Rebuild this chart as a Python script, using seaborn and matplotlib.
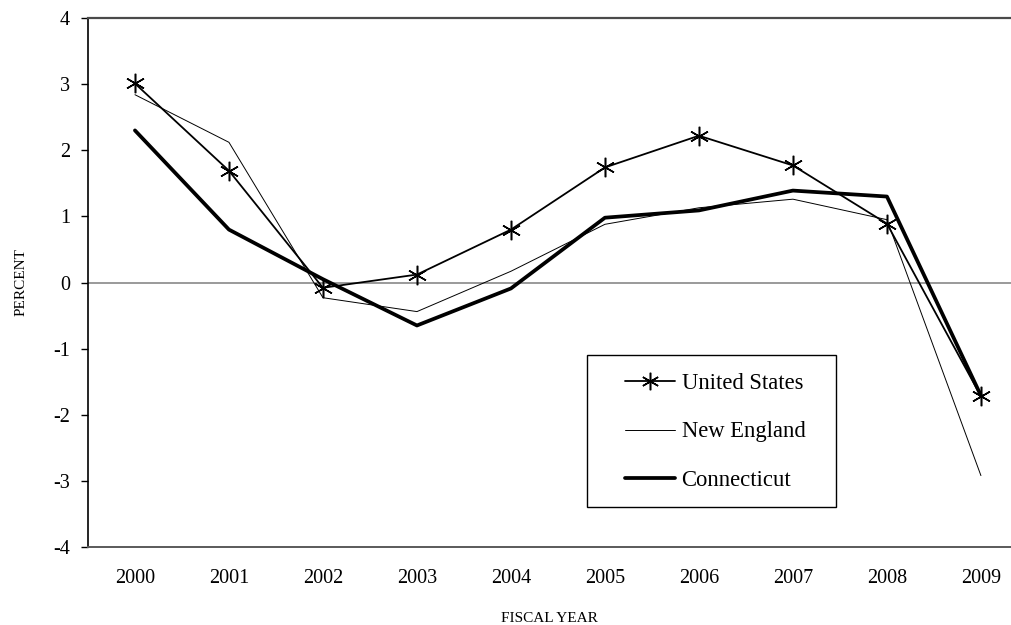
import matplotlib
matplotlib.use("Agg")
import matplotlib.pyplot as plt
from matplotlib.patches import Rectangle
import seaborn as sns
import pandas as pd

years = [2000, 2001, 2002, 2003, 2004, 2005, 2006, 2007, 2008, 2009]
united_states = [3.01, 1.69, -0.08, 0.12, 0.80, 1.74, 2.22, 1.77, 0.89, -1.72]
new_england = [2.84, 2.12, -0.23, -0.44, 0.17, 0.88, 1.13, 1.26, 0.95, -2.92]
connecticut = [2.30, 0.80, 0.05, -0.65, -0.09, 0.98, 1.09, 1.39, 1.30, -1.71]
yticks = [-4, -3, -2, -1, 0, 1, 2, 3, 4]

sns.set_theme(style="white")
plt.rcParams["font.family"] = ["Liberation Serif", "DejaVu Serif"]
plt.rcParams["axes.unicode_minus"] = False

fig = plt.figure(figsize=(10.11, 6.25), dpi=100)
ax = fig.add_axes([0.087, 0.1248, 0.913, 0.8464])

ax.axhline(0, color="#7f7f7f", lw=1.1, zorder=1)

df_us = pd.DataFrame({"year": years, "value": united_states})
df_ne = pd.DataFrame({"year": years, "value": new_england})
df_ct = pd.DataFrame({"year": years, "value": connecticut})

sns.lineplot(data=df_us, x="year", y="value", ax=ax, color="black", lw=1.3,
             marker=(6, 2, 0), markersize=14, markeredgewidth=1.1,
             markeredgecolor="black", label="United States", zorder=3)
sns.lineplot(data=df_ne, x="year", y="value", ax=ax, color="black", lw=0.7,
             label="New England", zorder=2)
sns.lineplot(data=df_ct, x="year", y="value", ax=ax, color="black", lw=2.7,
             label="Connecticut", zorder=4)

ax.set_xlim(1999.5, 2009.32)
ax.set_ylim(-4, 4)
ax.set_yticks(yticks)
ax.set_yticklabels([str(v) for v in yticks])
ax.set_xticks(years)
ax.set_xticklabels([str(y) for y in years])
ax.tick_params(axis="y", which="both", left=True, length=5, width=1, color="black",
               labelsize=14.5, labelcolor="black", pad=8)
ax.tick_params(axis="x", which="both", bottom=False, length=0,
               labelsize=14.5, labelcolor="black", pad=16)

ax.set_xlabel("FISCAL YEAR", fontsize=11, color="black", labelpad=17)
ax.set_ylabel("PERCENT", fontsize=11, color="black", labelpad=18)

for side in ["left", "bottom", "top"]:
    ax.spines[side].set_visible(True)
ax.spines["right"].set_visible(False)
ax.spines["left"].set_color("black")
ax.spines["left"].set_linewidth(1.2)
ax.spines["bottom"].set_color("#5a5a5a")
ax.spines["bottom"].set_linewidth(1.4)
ax.spines["top"].set_color("#4a4a4a")
ax.spines["top"].set_linewidth(1.6)

# legend box
box = Rectangle((0.5406, 0.0756), 0.8104 - 0.5406, 0.363 - 0.0756,
                transform=ax.transAxes, facecolor="white", edgecolor="black",
                linewidth=1.0, zorder=5)
ax.add_patch(box)

leg = ax.legend(loc="center left", bbox_to_anchor=(0.5818, 0.2174), borderaxespad=0,
                fontsize=16.3, frameon=False, borderpad=0,
                handlelength=2.2, handletextpad=0.3,
                labelspacing=1.2, markerscale=0.9)
leg.set_zorder(6)
for t in leg.get_texts():
    t.set_color("black")

fig.savefig("out.png", dpi=100)
